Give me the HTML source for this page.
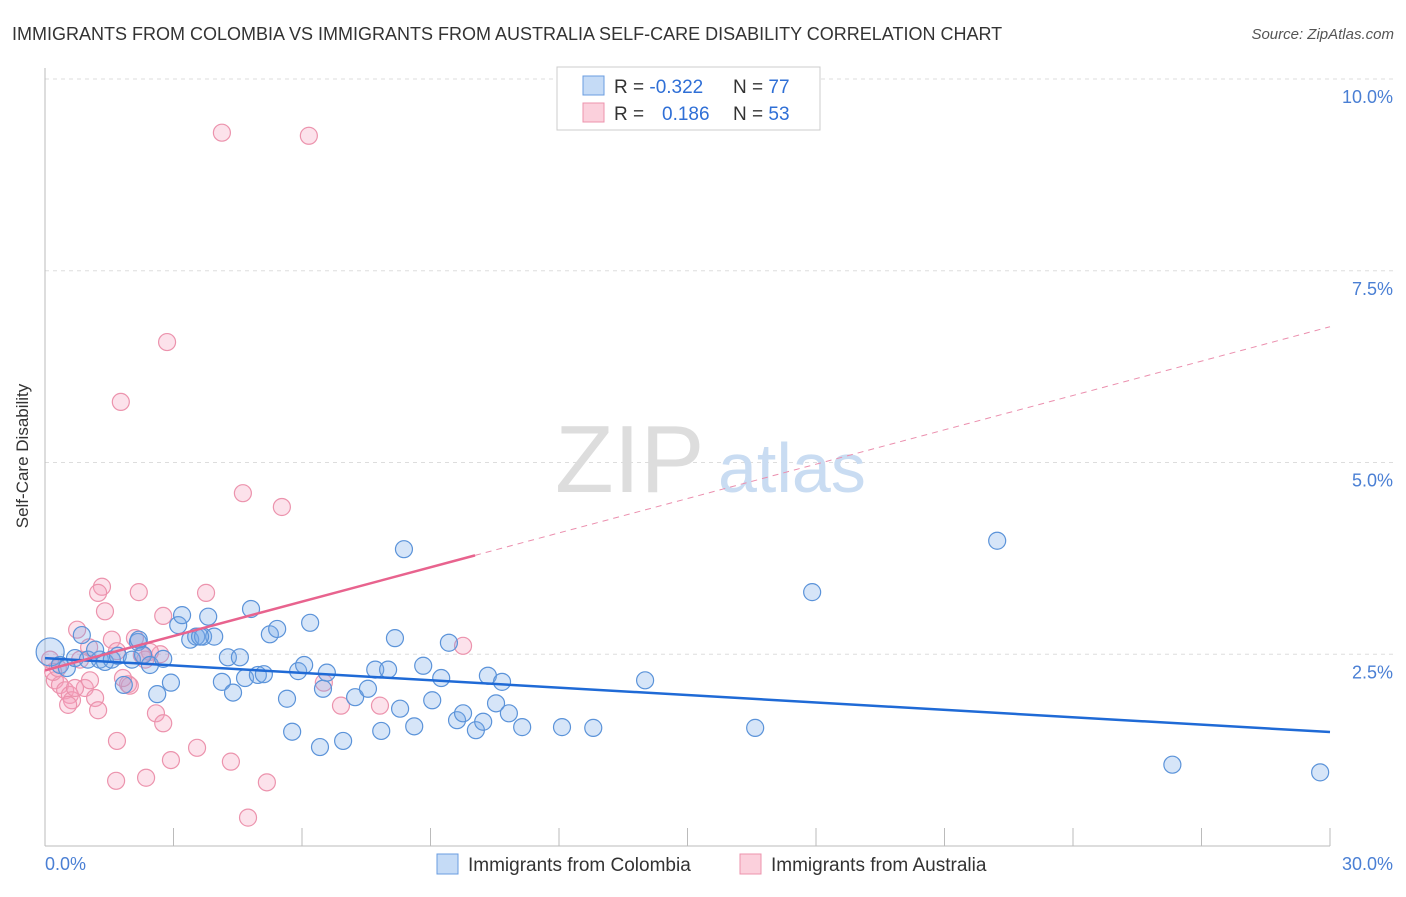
<!DOCTYPE html>
<html><head><meta charset="utf-8"><style>
body{margin:0;background:#fff;font-family:"Liberation Sans",sans-serif;}
svg text{font-family:"Liberation Sans",sans-serif;}
</style></head><body>
<svg width="1406" height="892">
<text x="12" y="40" font-size="18" fill="#333">IMMIGRANTS FROM COLOMBIA VS IMMIGRANTS FROM AUSTRALIA SELF-CARE DISABILITY CORRELATION CHART</text>
<text x="1394" y="39" font-size="15" fill="#555" text-anchor="end" font-style="italic">Source: ZipAtlas.com</text>
<g id="grid"></g>
<text x="555" y="492" font-size="96" fill="#ddd" font-family="Liberation Serif">ZIP</text>
<text x="718" y="492" font-size="70" fill="#c9dcf2">atlas</text>
<line x1="45" y1="68" x2="45" y2="846" stroke="#bbb"/>
<line x1="45" y1="846" x2="1330" y2="846" stroke="#bbb"/>
<text x="28" y="456" font-size="17" fill="#333" text-anchor="middle" transform="rotate(-90 28 456)">Self-Care Disability</text>
<text x="45" y="870" font-size="18" fill="#4a7fd4">0.0%</text>
<text x="1393" y="870" font-size="18" fill="#4a7fd4" text-anchor="end">30.0%</text>
<g id="pts"></g>
<g id="lines"></g>
<rect x="557" y="67" width="263" height="63" fill="#fff" stroke="#ccc"/>
<rect x="583" y="76" width="21" height="19" fill="#c5dbf6" stroke="#6a9de0"/>
<rect x="583" y="103" width="21" height="19" fill="#fbd0dc" stroke="#ec93ad"/>
<text x="614" y="93" font-size="19" fill="#333">R = <tspan fill="#2f6fd6">-0.322</tspan><tspan x="733">N = </tspan><tspan fill="#2f6fd6">77</tspan></text>
<text x="614" y="120" font-size="19" fill="#333">R = <tspan x="662" fill="#2f6fd6">0.186</tspan><tspan x="733">N = </tspan><tspan fill="#2f6fd6">53</tspan></text>
<rect x="437" y="854" width="21" height="20" fill="#c5dbf6" stroke="#6a9de0"/>
<text x="468" y="871" font-size="19" fill="#333">Immigrants from Colombia</text>
<rect x="740" y="854" width="21" height="20" fill="#fbd0dc" stroke="#ec93ad"/>
<text x="771" y="871" font-size="19" fill="#333">Immigrants from Australia</text>
</svg>
<script>
const yTicks=[2.5,5.0,7.5,10.0];
const yTickLabels=["2.5%","5.0%","7.5%","10.0%"];
const xTicks=[3,6,9,12,15,18,21,24,27,30];
const blueX=[0.12,0.35,0.51,0.70,0.86,1.00,1.28,1.40,1.56,1.70,1.84,2.03,2.17,2.29,2.45,2.62,2.76,2.94,3.11,3.20,3.39,3.53,3.69,3.81,3.95,4.13,4.27,4.39,4.55,4.67,4.81,4.97,5.11,5.25,5.42,5.65,5.77,5.91,6.05,6.19,6.42,6.49,6.58,6.96,7.24,7.54,7.71,7.85,8.01,8.17,8.29,8.38,8.62,8.83,9.04,9.25,9.43,9.62,9.76,10.06,10.23,10.34,10.53,10.67,10.83,11.14,12.07,12.80,14.01,16.58,17.91,22.23,26.32,29.77,2.19,3.62,1.17];
const blueY=[2.53,2.36,2.32,2.45,2.75,2.43,2.43,2.40,2.43,2.48,2.10,2.43,2.66,2.49,2.36,1.98,2.44,2.13,2.88,3.01,2.69,2.73,2.73,2.99,2.73,2.14,2.46,2.00,2.46,2.19,3.09,2.23,2.24,2.76,2.83,1.92,1.49,2.28,2.36,2.91,1.29,2.05,2.26,1.37,1.94,2.05,2.30,1.50,2.30,2.71,1.79,3.87,1.56,2.35,1.90,2.19,2.65,1.64,1.73,1.51,1.62,2.22,1.86,2.14,1.73,1.55,1.55,1.54,2.16,1.54,3.31,3.98,1.06,0.96,2.69,2.73,2.56];
const pinkX=[4.13,6.16,2.85,1.77,4.62,5.53,1.33,1.24,3.76,2.19,2.76,1.40,0.75,1.56,2.10,1.03,1.68,2.69,2.45,2.34,0.23,0.35,0.47,0.58,0.63,0.93,1.17,1.94,1.98,1.24,0.54,2.59,2.76,1.68,3.55,2.94,4.34,2.36,1.66,5.18,4.74,9.76,6.51,6.91,7.82,0.12,0.19,0.30,0.82,2.26,1.82,0.70,1.05];
const pinkY=[9.30,9.26,6.57,5.79,4.60,4.42,3.38,3.30,3.30,3.31,3.00,3.06,2.82,2.69,2.71,2.59,2.54,2.50,2.53,2.43,2.16,2.10,2.03,1.97,1.90,2.06,1.93,2.11,2.09,1.77,1.84,1.73,1.60,1.37,1.28,1.12,1.10,0.89,0.85,0.83,0.37,2.61,2.13,1.83,1.83,2.43,2.27,2.32,2.43,2.49,2.19,2.06,2.16];
const blueTrend=[2.45,1.486];
const pinkTrend=[2.29,6.77];
const pinkSolidEnd=10.04;
const X=v=>45+v/30*1285, Y=v=>846-v*76.7;
const NS="http://www.w3.org/2000/svg";
function mk(t,a,p){const e=document.createElementNS(NS,t);for(const k in a)e.setAttribute(k,a[k]);p.appendChild(e);return e;}
const grid=document.getElementById('grid');
yTicks.forEach((t,i)=>{
 const l=mk('line',{x1:45,x2:1393,y1:Y(t),y2:Y(t),stroke:'#ddd','stroke-dasharray':'4,4'},grid);
 
 
 const tx=mk('text',{x:1393,y:Y(t)+24,'font-size':18,fill:'#4a7fd4','text-anchor':'end'},grid);
 tx.textContent=yTickLabels[i];
 
 
});
xTicks.forEach(t=>{
 const l=mk('line',{x1:X(t),x2:X(t),y1:828,y2:846,stroke:'#bbb'},grid);
 
 
});
const pts=document.getElementById('pts');
pinkX.forEach((x,i)=>{
 const c=mk('circle',{cx:X(x),cy:Y(pinkY[i]),r:8.5,fill:'rgba(244,160,188,0.3)',stroke:'#ec93ad','stroke-width':1.2},pts);
 
 
});
blueX.forEach((x,i)=>{
 const c=mk('circle',{cx:X(x),cy:Y(blueY[i]),r:i==0?14:8.5,fill:'rgba(120,170,232,0.3)',stroke:'#5b93d9','stroke-width':1.2},pts);
 
 
});
const lines=document.getElementById('lines');
const pY=x=>pinkTrend[0]+(pinkTrend[1]-pinkTrend[0])*x/30;
let l1=mk('line',{x1:X(0),y1:Y(blueTrend[0]),x2:X(30),y2:Y(blueTrend[1]),stroke:'#1f6ad6','stroke-width':2.5},lines);


let l2=mk('line',{x1:X(0),y1:Y(pY(0)),x2:X(pinkSolidEnd),y2:Y(pY(pinkSolidEnd)),stroke:'#e8638e','stroke-width':2.5},lines);


let l3=mk('line',{x1:X(pinkSolidEnd),y1:Y(pY(pinkSolidEnd)),x2:X(30),y2:Y(pY(30)),stroke:'#eb8fae','stroke-width':1,'stroke-dasharray':'6,5'},lines);


</script>
</body></html>
